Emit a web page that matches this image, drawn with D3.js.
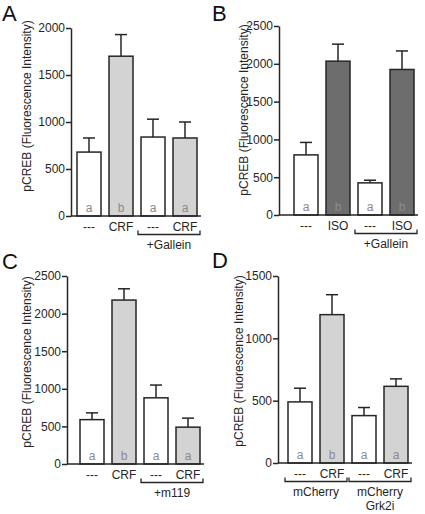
<!DOCTYPE html>
<html><head><meta charset="utf-8">
<script src="https://cdn.jsdelivr.net/npm/d3@7"></script>
<style>body{margin:0;background:#fff}svg{display:block;font-family:"Liberation Sans",Arial,sans-serif}</style>
</head><body>
<svg id="c" width="425" height="514"></svg>
<script>
// Data
const panelLetters = ["A","B","C","D"];
const catsA = ["---","CRF","---","CRF"];
const valsA = [680,1700,840,830];
const errA  = [830,1930,1030,1000];
const sigA  = ["a","b","a","a"];
const catsB = ["---","ISO","---","ISO"];
const valsB = [795,2035,425,1925];
const errB  = [960,2260,460,2170];
const sigB  = ["a","b","a","b"];
const catsC = ["---","CRF","---","CRF"];
const valsC = [590,2180,880,490];
const errC  = [680,2330,1050,610];
const sigC  = ["a","b","a","a"];
const catsD = ["---","CRF","---","CRF"];
const valsD = [490,1190,380,615];
const errD  = [600,1350,445,675];
const sigD  = ["a","b","a","a"];
const ticksA = [0,500,1000,1500,2000];
const ticksB = [0,500,1000,1500,2000,2500];
const ticksC = [0,500,1000,1500,2000,2500];
const ticksD = [0,500,1000,1500];
const groupsA = [{from:2,to:3,lines:["+Gallein"]}];
const groupsB = [{from:2,to:3,lines:["+Gallein"]}];
const groupsC = [{from:2,to:3,lines:["+m119"]}];
const groupsD = [{from:0,to:1,lines:["mCherry"]},{from:2,to:3,lines:["mCherry","Grk2i"]}];
const yTitle = "pCREB (Fluorescence Intensity)";

const WHITE="#ffffff", LIGHT="#d3d3d3", DARK="#6d6d6d";
const panels = [
  {letter:panelLetters[0],lx:2,ly:21,cats:catsA,vals:valsA,err:errA,sig:sigA,ticks:ticksA,groups:groupsA,
   fills:[WHITE,LIGHT,WHITE,LIGHT],ax:71,band:[73,201],top:28,zero:216,titleX:27,titleY:106},
  {letter:panelLetters[1],lx:212,ly:21,cats:catsB,vals:valsB,err:errB,sig:sigB,ticks:ticksB,groups:groupsB,
   fills:[WHITE,DARK,WHITE,DARK],ax:279,band:[290,418],top:26,zero:215,titleX:244,titleY:110},
  {letter:panelLetters[2],lx:2,ly:269,cats:catsC,vals:valsC,err:errC,sig:sigC,ticks:ticksC,groups:groupsC,
   fills:[WHITE,LIGHT,WHITE,LIGHT],ax:67,band:[76,204],top:276,zero:464,titleX:27,titleY:362},
  {letter:panelLetters[3],lx:212,ly:268,cats:catsD,vals:valsD,err:errD,sig:sigD,ticks:ticksD,groups:groupsD,
   fills:[WHITE,LIGHT,WHITE,LIGHT],ax:278,band:[284,412],top:276,zero:463,titleX:239,titleY:361}
];
const INK="#262626";
const svg = d3.select("#c");
panels.forEach(p=>{
  const g = svg.append("g");
  const idx = p.vals.map((d,i)=>i);
  const x = d3.scaleBand().domain(idx).range(p.band).paddingInner(0.25).paddingOuter(0.125);
  const y = d3.scaleLinear().domain([0,d3.max(p.ticks)]).range([p.zero,p.top]);
  const bw = x.bandwidth();
  // panel letter
  g.append("text").attr("x",p.lx).attr("y",p.ly).attr("font-size",22).attr("fill","#111").text(p.letter);
  // y title
  g.append("text").attr("transform",`translate(${p.titleX},${p.titleY}) rotate(-90)`)
    .attr("text-anchor","middle").attr("dominant-baseline","central").attr("font-size",12).attr("fill",INK).text(yTitle);
  // error bars
  const eb = g.append("g").attr("stroke",INK).attr("stroke-width",1.5);
  idx.forEach(i=>{
    const cx = x(i)+bw/2;
    eb.append("line").attr("x1",cx).attr("x2",cx).attr("y1",y(p.vals[i])).attr("y2",y(p.err[i]));
    eb.append("line").attr("x1",cx-6).attr("x2",cx+6).attr("y1",y(p.err[i])).attr("y2",y(p.err[i]));
  });
  // bars
  g.selectAll("rect.bar").data(idx).enter().append("rect")
    .attr("x",i=>x(i)).attr("width",bw)
    .attr("y",i=>y(p.vals[i])).attr("height",i=>y(0)-y(p.vals[i]))
    .attr("fill",i=>p.fills[i]).attr("stroke",INK).attr("stroke-width",1.5);
  // significance letters
  g.selectAll("text.sig").data(idx).enter().append("text")
    .attr("x",i=>x(i)+bw/2).attr("y",p.zero-4).attr("text-anchor","middle")
    .attr("font-size",12).attr("fill","#8a8a8a").text(i=>p.sig[i]);
  // y axis
  const yAxis = d3.axisLeft(y).tickValues(p.ticks).tickSize(5).tickSizeOuter(0).tickFormat(d3.format("d"));
  const ya = g.append("g").attr("transform",`translate(${p.ax},0)`).call(yAxis);
  ya.select(".domain").attr("stroke",INK).attr("stroke-width",1.5);
  ya.selectAll(".tick line").attr("stroke",INK).attr("stroke-width",1.5);
  ya.selectAll(".tick text").attr("font-size",12).attr("fill",INK).attr("font-family","Liberation Sans, Arial, sans-serif").attr("x",-6);
  // x baseline
  g.append("line").attr("x1",p.ax).attr("x2",p.band[1]).attr("y1",p.zero).attr("y2",p.zero)
    .attr("stroke",INK).attr("stroke-width",1.5);
  // category labels
  g.selectAll("text.cat").data(idx).enter().append("text")
    .attr("x",i=>x(i)+bw/2).attr("y",p.zero+14.5).attr("text-anchor","middle")
    .attr("font-size",12).attr("fill",INK).text(i=>p.cats[i]);
  // groups
  p.groups.forEach(gr=>{
    const x1 = x(gr.from)-3, x2 = x(gr.to)+bw+3, yb = p.zero+18.5;
    g.append("path").attr("d",`M${x1},${yb-4}V${yb}H${x2}V${yb-4}`)
      .attr("fill","none").attr("stroke",INK).attr("stroke-width",1.3);
    gr.lines.forEach((t,k)=>{
      g.append("text").attr("x",(x1+x2)/2).attr("y",p.zero+32.5+k*14).attr("text-anchor","middle")
        .attr("font-size",12).attr("fill",INK).text(t);
    });
  });
});
</script>
</body></html>
